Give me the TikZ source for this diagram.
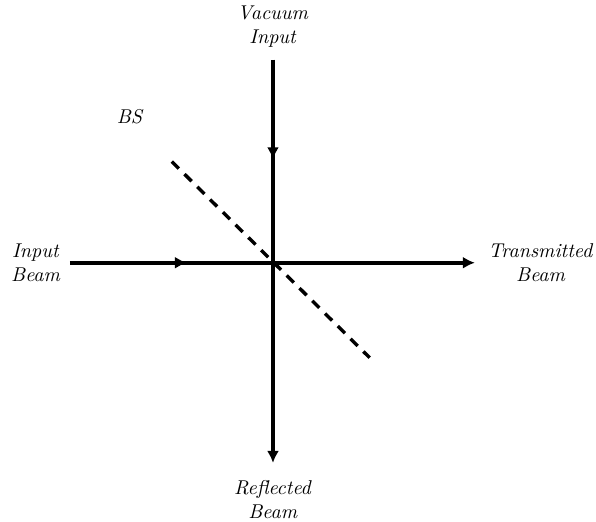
\documentclass[tikz,border=0pt]{standalone}
\usepackage{amsmath}
\usepackage{amssymb}
\usetikzlibrary{decorations.markings,arrows.meta}

\tikzset{
    beam/.style={line width=2pt, -{Latex[length=6pt,width=6pt]}},
    midarrow/.style={postaction={decorate}, decoration={markings,
        mark=at position #1 with {\arrow{Latex[length=6pt,width=6pt]}}}},
    lbl/.style={align=center, inner sep=1pt}
}

\begin{document}
\begin{tikzpicture}
    \useasboundingbox (-4.80,-4.55) rectangle (5.68,4.62);

    % Ports
    \coordinate (bs) at (0,0);
    \coordinate (inL) at (-3.57,0);
    \coordinate (outR) at (3.55,0);
    \coordinate (inT) at (0,3.57);
    \coordinate (outB) at (0,-3.52);

    % Beams
    \draw[beam, midarrow=0.289] (inL) -- (outR);
    \draw[beam, midarrow=0.247] (inT) -- (outB);

    % Beam splitter
    \draw[line width=1.7pt, dash pattern=on 5pt off 4pt] (-1.78,1.78) -- (1.7,-1.67);

    % Labels
    \node[lbl] (vac) at (0,4.15) {\textit{Vacuum}\\\textit{Input}};
    \node[lbl] (inb) at (-4.17,0) {\textit{Input}\\\textit{Beam}};
    \node[lbl] (trb) at (4.71,0) {\textit{Transmitted}\\\textit{Beam}};
    \node[lbl] (rfb) at (0,-4.17) {\textit{Reflected}\\\textit{Beam}};
    \node (bslbl) at (-2.51,2.57) {\textit{BS}};
\end{tikzpicture}
\end{document}
